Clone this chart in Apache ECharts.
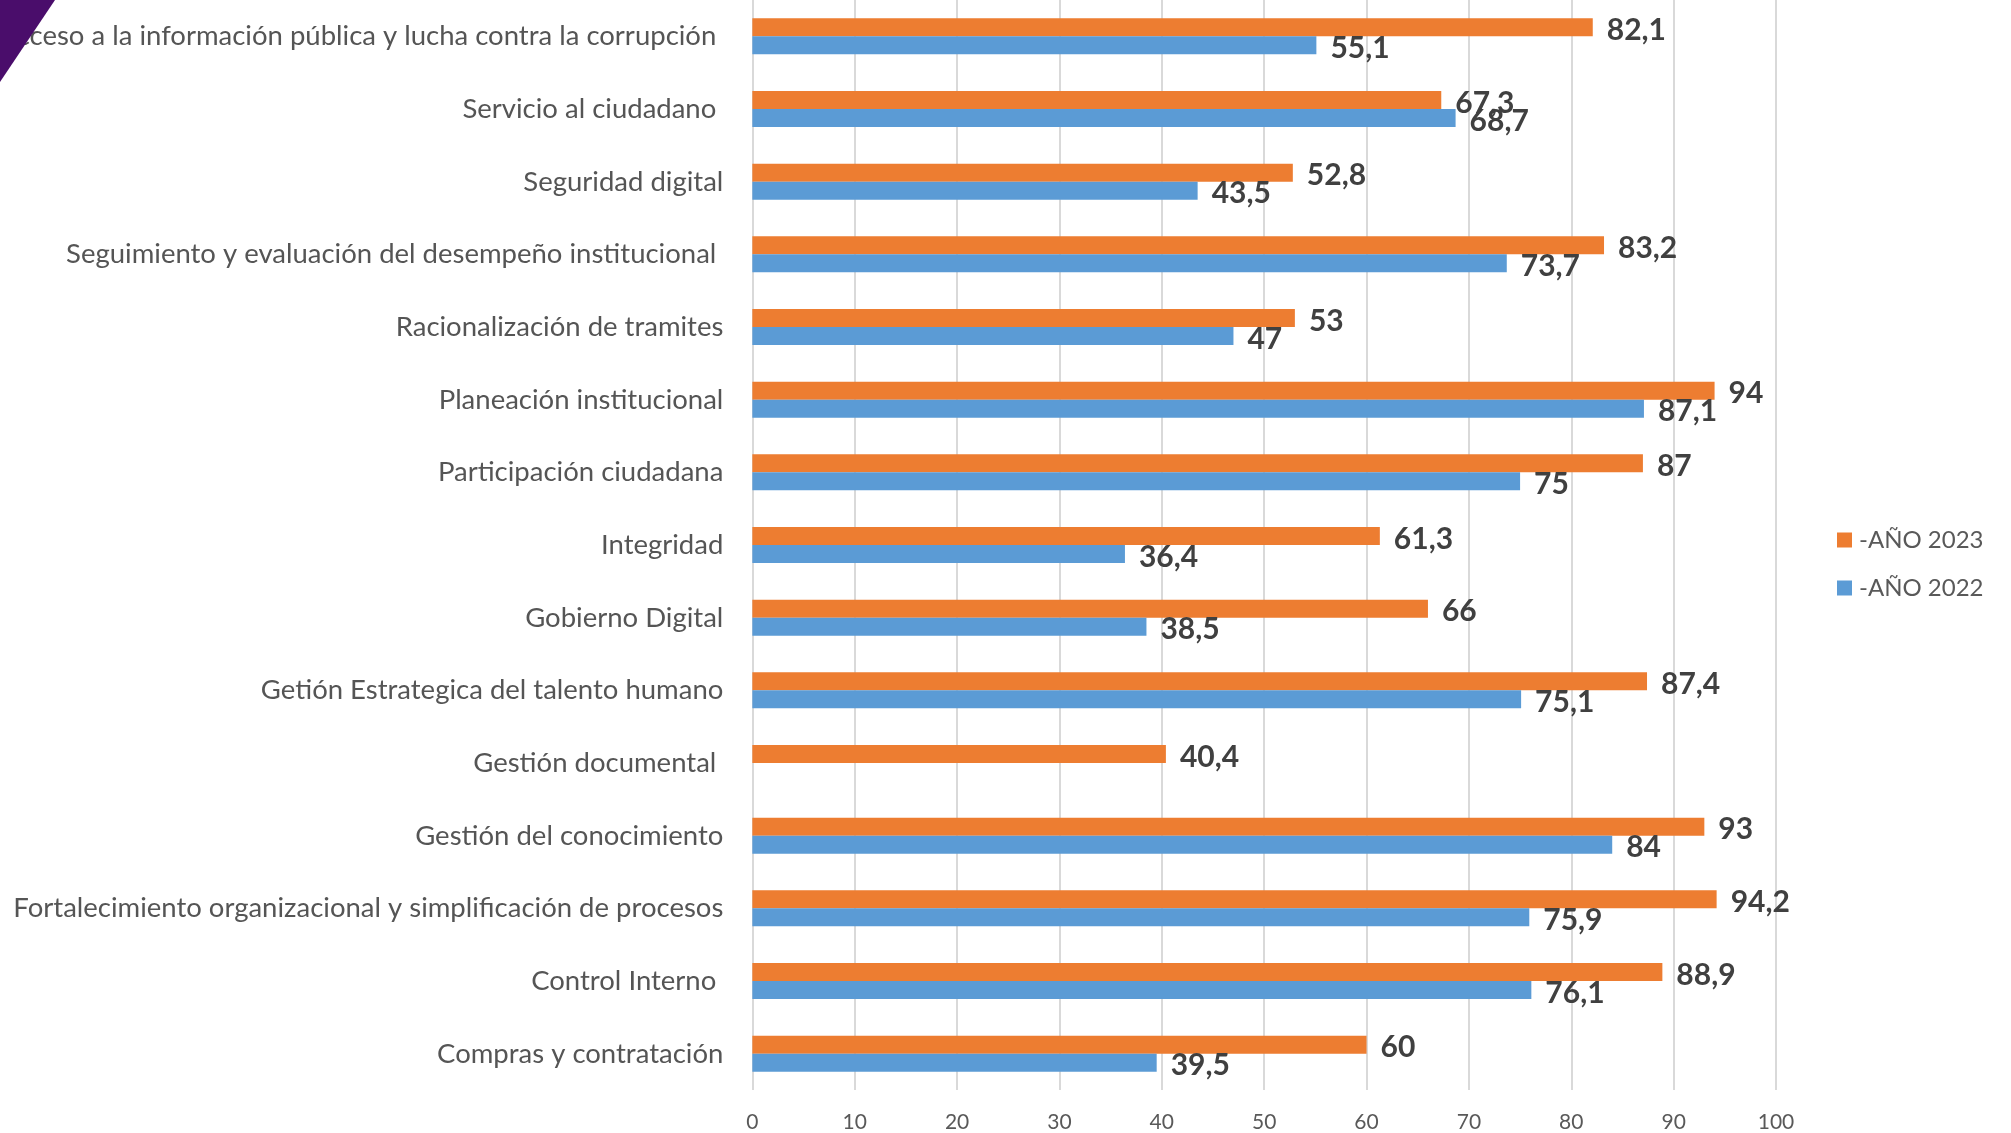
<!DOCTYPE html>
<html>
<head>
<meta charset="utf-8">
<script src="https://cdn.jsdelivr.net/npm/echarts@6/dist/echarts.min.js"></script>
<style>
html,body{margin:0;padding:0;background:#fff;}
#c{width:2011px;height:1133px;}
</style>
</head>
<body>
<div id="c"></div>
<script>
// Categories listed bottom-to-top (ECharts category y axis starts at bottom)
const categories = [
  "Compras y contratación",
  "Control Interno ",
  "Fortalecimiento organizacional y simplificación de procesos",
  "Gestión del conocimiento",
  "Gestión documental ",
  "Getión Estrategica del talento humano",
  "Gobierno Digital",
  "Integridad",
  "Participación ciudadana",
  "Planeación institucional",
  "Racionalización de tramites",
  "Seguimiento y evaluación del desempeño institucional ",
  "Seguridad digital",
  "Servicio al ciudadano ",
  "acceso a la información pública y lucha contra la corrupción "
];
const values2023 = [60, 88.9, 94.2, 93, 40.4, 87.4, 66, 61.3, 87, 94, 53, 83.2, 52.8, 67.3, 82.1];
const values2022 = [39.5, 76.1, 75.9, 84, null, 75.1, 38.5, 36.4, 75, 87.1, 47, 73.7, 43.5, 68.7, 55.1];
const seriesNames = ["-AÑO 2023", "-AÑO 2022"];
const xTicks = [0, 10, 20, 30, 40, 50, 60, 70, 80, 90, 100];

const FONT = "Lato";
const fmt = p => (p.value == null ? "" : String(p.value).replace(".", ","));
const labelStyle = {
  show: true, position: "right", distance: 14, offset: [0, 3],
  fontFamily: FONT, fontWeight: "bold", fontSize: 30, color: "#404040",
  formatter: fmt
};

const chart = echarts.init(document.getElementById("c"));
chart.setOption({
  backgroundColor: "#ffffff",
  animation: false,
  legend: {
    orient: "vertical",
    left: 1832, top: 523,
    itemWidth: 15, itemHeight: 15, itemGap: 24,
    icon: "rect",
    data: seriesNames,
    textStyle: { fontFamily: FONT, fontSize: 24, color: "#595959", padding: [0, 0, 0, 2] }
  },
  grid: { left: 748, right: 235, top: 0, bottom: 43, containLabel: false },
  xAxis: {
    type: "value", min: xTicks[0], max: xTicks[xTicks.length - 1], interval: 10,
    axisLine: { show: false }, axisTick: { show: false },
    splitLine: { show: true, lineStyle: { color: "#d9d9d9", width: 2 } },
    axisLabel: { fontFamily: FONT, fontSize: 21, color: "#595959", margin: 22 }
  },
  yAxis: {
    type: "category", data: categories,
    axisLine: { show: false }, axisTick: { show: false },
    axisLabel: { fontFamily: FONT, fontSize: 27.5, color: "#555555", margin: 29 }
  },
  series: [
    {
      name: seriesNames[0], type: "bar", data: values2023,
      barWidth: 18, barGap: "0%",
      itemStyle: { color: "#ed7d31" },
      label: labelStyle
    },
    {
      name: seriesNames[1], type: "bar", data: values2022,
      barWidth: 18, barGap: "0%",
      itemStyle: { color: "#5b9bd5" },
      label: labelStyle
    }
  ],
  graphic: [{
    type: "polygon", z: 100,
    shape: { points: [[0, 0], [55, 0], [0, 82]] },
    style: { fill: "#4a0d6b" }
  }]
});
</script>
</body>
</html>
